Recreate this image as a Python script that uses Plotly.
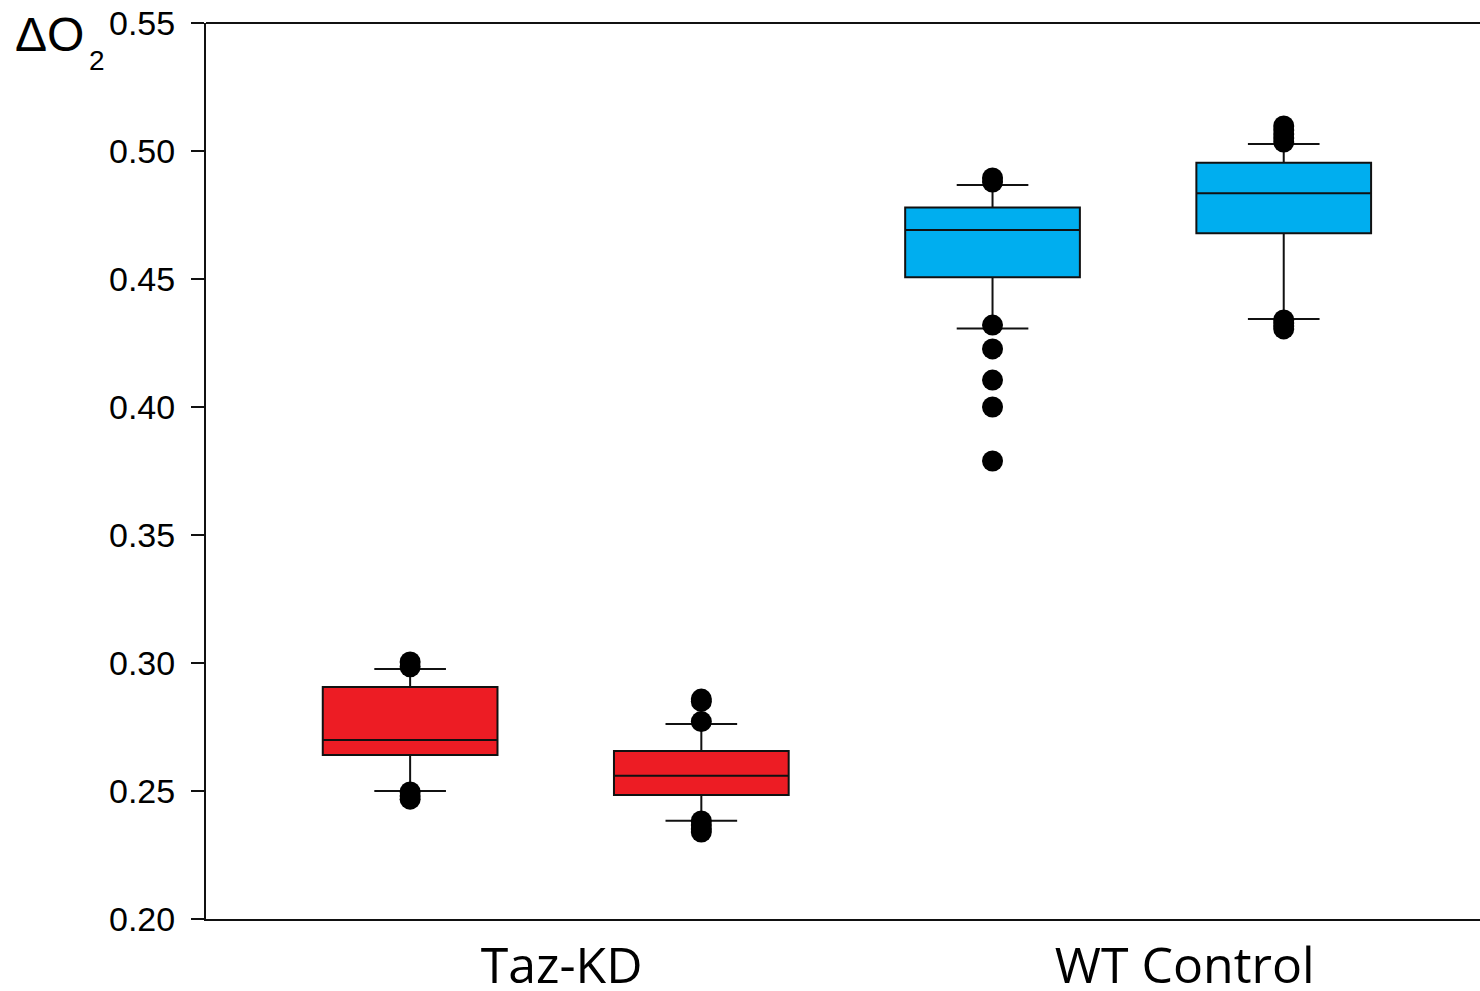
import plotly.graph_objects as go

# Group positions along the x axis and their labels
positions = [1, 2, 3, 4]
group_labels = ["Taz-KD", "WT Control"]
group_label_pos = [1.52, 3.66]

# Box statistics for each sample (ΔO2)
q1 = [0.2641, 0.2484, 0.4507, 0.4679]
median = [0.2699, 0.2560, 0.4691, 0.4835]
q3 = [0.2906, 0.2656, 0.4779, 0.4954]
lower_whisker = [0.2500, 0.2384, 0.4307, 0.4344]
upper_whisker = [0.2977, 0.2762, 0.4867, 0.5027]

# Outlying points for each sample
outliers = [
    [0.3004, 0.2985, 0.2496, 0.2480, 0.2468],
    [0.2859, 0.2850, 0.2771, 0.2383, 0.2367, 0.2352, 0.2340],
    [0.4895, 0.4879, 0.4320, 0.4227, 0.4105, 0.4000, 0.3789],
    [0.5098, 0.5082, 0.5066, 0.5051, 0.5035, 0.4340, 0.4328, 0.4316, 0.4305],
]

y_ticks = [0.20, 0.25, 0.30, 0.35, 0.40, 0.45, 0.50, 0.55]

colors = ["#ED1C24", "#ED1C24", "#00AEEF", "#00AEEF"]

fig = go.Figure()

for i, pos in enumerate(positions):
    fig.add_trace(go.Box(
        x=[pos],
        q1=[q1[i]],
        median=[median[i]],
        q3=[q3[i]],
        lowerfence=[lower_whisker[i]],
        upperfence=[upper_whisker[i]],
        width=0.6,
        whiskerwidth=0.41,
        fillcolor=colors[i],
        line=dict(color="#111111", width=2),
        boxpoints=False,
        showlegend=False,
        hoverinfo="skip",
    ))

for i, pos in enumerate(positions):
    fig.add_trace(go.Scatter(
        x=[pos] * len(outliers[i]),
        y=outliers[i],
        mode="markers",
        marker=dict(color="black", size=21),
        showlegend=False,
        hoverinfo="skip",
    ))

fig.update_layout(
    width=1480,
    height=991,
    margin=dict(l=206, r=0, t=23, b=72),
    paper_bgcolor="white",
    plot_bgcolor="white",
    boxmode="overlay",
    xaxis=dict(
        range=[0.299, 4.674],
        automargin=False,
        showgrid=False,
        zeroline=False,
        showline=True,
        linecolor="#111111",
        linewidth=2,
        tickmode="array",
        tickvals=group_label_pos,
        ticktext=group_labels,
        ticks="",
        ticklabelstandoff=2,
        tickfont=dict(family="Open Sans", size=50, color="black"),
    ),
    yaxis=dict(
        range=[0.20, 0.55],
        automargin=False,
        showgrid=False,
        zeroline=False,
        showline=True,
        linecolor="#111111",
        linewidth=2,
        tickmode="array",
        tickvals=y_ticks,
        ticktext=[f"{v:.2f}" for v in y_ticks],
        ticks="outside",
        ticklen=13,
        tickwidth=2,
        tickcolor="#111111",
        ticklabelstandoff=9,
        tickfont=dict(family="Liberation Sans", size=34, color="black"),
    ),
    shapes=[
        dict(type="line", xref="paper", yref="paper", x0=0, x1=1, y0=1, y1=1,
             line=dict(color="#111111", width=2)),
    ],
    annotations=[
        dict(
            text="ΔO",
            xref="paper", yref="paper",
            x=-0.1507, y=0.987,
            xanchor="left", yanchor="middle",
            showarrow=False, borderpad=0,
            font=dict(family="Liberation Sans", size=48, color="black"),
        ),
        dict(
            text="2",
            xref="paper", yref="paper",
            x=-0.0925, y=0.9576,
            xanchor="left", yanchor="middle",
            showarrow=False, borderpad=0,
            font=dict(family="Liberation Sans", size=28, color="black"),
        ),
    ],
)

fig.write_html("out.html")
